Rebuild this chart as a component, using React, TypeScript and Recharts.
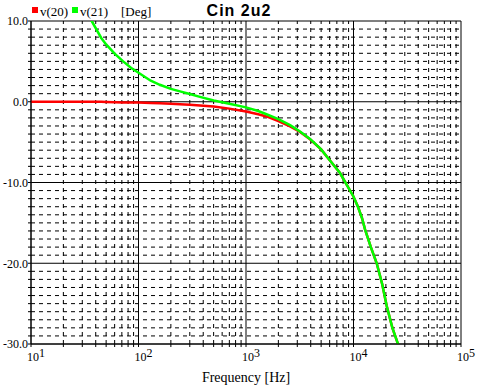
import React from 'react';
import {LineChart, Line, XAxis, YAxis, ReferenceLine} from 'recharts';

// frequency points [Hz]
const freqs: number[] = [
    10, 15, 20, 30, 36.7, 45, 50, 60, 72, 85, 100, 130, 158, 200, 243, 300, 373, 500, 700,
    1000, 1300, 1550, 2000, 2570, 3180, 3940, 5000, 5640, 6500, 7490, 8500, 9960, 11000,
    12000, 12800, 14500, 16440, 18500, 20370, 23000, 26100
];

// phase of v(20) [Deg]
const v20: number[] = [
    0, 0, 0, 0, 0, 0, -0.02, -0.05, -0.08, -0.09, -0.1, -0.15, -0.2, -0.25, -0.3, -0.37, -0.45, -0.6, -0.85,
    -1.2, -1.55, -1.82, -2.4, -3.06, -3.75, -4.65, -5.9, -6.77, -7.8, -8.83, -10.1, -11.7, -13.0,
    -14.4, -15.8, -18.0, -20.0, -22.6, -25.3, -28.0, -30.1
];

// phase of v(21) [Deg], null = above the top of the plot
const v21: (number | null)[] = [
    null, null, null, 12.0, 10.0, 7.9, 7.1, 5.95, 5.0, 4.2, 3.6, 2.6, 2.1, 1.6, 1.28, 0.95, 0.6, 0.15, -0.25,
    -0.7, -1.15, -1.55, -2.15, -2.9, -3.68, -4.6, -5.9, -6.77, -7.8, -8.83, -10.1, -11.7, -13.0,
    -14.4, -15.8, -18.0, -20.0, -22.6, -25.3, -28.0, -30.1
];

const decades: number[] = [10, 100, 1000, 10000, 100000];
const yMajor: number[] = [-30, -20, -10, 0, 10];

const xMinor: number[] = [];
decades.slice(0, 4).forEach(d => {
    for (let k = 2; k <= 9; k++) xMinor.push(d * k);
});
const yAll: number[] = [];
for (let v = -30; v <= 10; v++) yAll.push(v);
const yMinor = yAll.filter(v => v % 10 !== 0);

const data = freqs.map((f, i) => ({f, v20: v20[i], v21: v21[i]}));

const serif = '"Liberation Serif", "Times New Roman", serif';

function XTick(props: any) {
    const {x, y, payload} = props;
    const v = payload.value;
    if (!decades.includes(v)) return null;
    const exp = Math.round(Math.log10(v));
    return (
        <text x={x - 4} y={y + 12} fontFamily={serif} fontSize={12} fill="#000" textAnchor="start">
            10<tspan dy={-4}>{exp}</tspan>
        </text>
    );
}

export default function App() {
    return (
        <div style={{position: 'absolute', left: 0, top: 0, width: 478, height: 388, background: '#fff'}}>
            <LineChart width={478} height={388} data={data}
                       margin={{top: 21, right: 17, bottom: 0, left: 0}}>
                {yMinor.map(v => (
                    <ReferenceLine key={'hy' + v} y={v} stroke="#000" strokeDasharray="4 4" strokeWidth={1}/>
                ))}
                {xMinor.map(v => (
                    <ReferenceLine key={'vx' + v} x={v} stroke="#000" strokeDasharray="4 4" strokeWidth={1}/>
                ))}
                {yMajor.map(v => (
                    <ReferenceLine key={'HY' + v} y={v} stroke="#000" strokeWidth={1}/>
                ))}
                {decades.map(v => (
                    <ReferenceLine key={'VX' + v} x={v} stroke="#000" strokeWidth={1}/>
                ))}
                <XAxis dataKey="f" type="number" scale="log" domain={[10, 100000]}
                       ticks={[...decades, ...xMinor].sort((a, b) => a - b)}
                       allowDataOverflow interval={0} height={44}
                       axisLine={{stroke: '#000'}} tickLine={{stroke: '#000'}}
                       tickSize={3} tickMargin={2} tick={<XTick/>}/>
                <YAxis type="number" domain={[-30, 10]} ticks={yAll} allowDataOverflow interval={0}
                       width={31} axisLine={{stroke: '#000'}} tickLine={{stroke: '#000'}}
                       tickSize={3} tickMargin={0}
                       tickFormatter={(v: number) => (v % 10 === 0 ? v.toFixed(1) : '')}
                       tick={{fontFamily: serif, fontSize: 12, fill: '#000'}}/>
                <Line type="linear" dataKey="v20" stroke="#ff0000" strokeWidth={2.5} dot={false}
                      isAnimationActive={false}/>
                <Line type="linear" dataKey="v21" stroke="#00ff00" strokeWidth={2.5} dot={false}
                      isAnimationActive={false}/>
            </LineChart>
            <svg width={478} height={388} style={{position: 'absolute', left: 0, top: 0, pointerEvents: 'none'}}>
                <rect x={32} y={7} width={6} height={6} fill="#ff0000"/>
                <text x={40} y={16} fontFamily={serif} fontSize={13} fill="#000">v(20)</text>
                <rect x={72} y={7} width={6} height={6} fill="#00ff00"/>
                <text x={80} y={16} fontFamily={serif} fontSize={13} fill="#000">v(21)</text>
                <text x={121} y={16} fontFamily={serif} fontSize={13} fill="#000">[Deg]</text>
                <text x={239} y={16} textAnchor="middle" fontFamily='"Liberation Sans", Arial, sans-serif'
                      fontSize={16} fontWeight="bold" letterSpacing={1} fill="#000">Cin 2u2</text>
                <text x={246} y={382} textAnchor="middle" fontFamily={serif} fontSize={14} fill="#000">
                    Frequency [Hz]
                </text>
            </svg>
        </div>
    );
}
